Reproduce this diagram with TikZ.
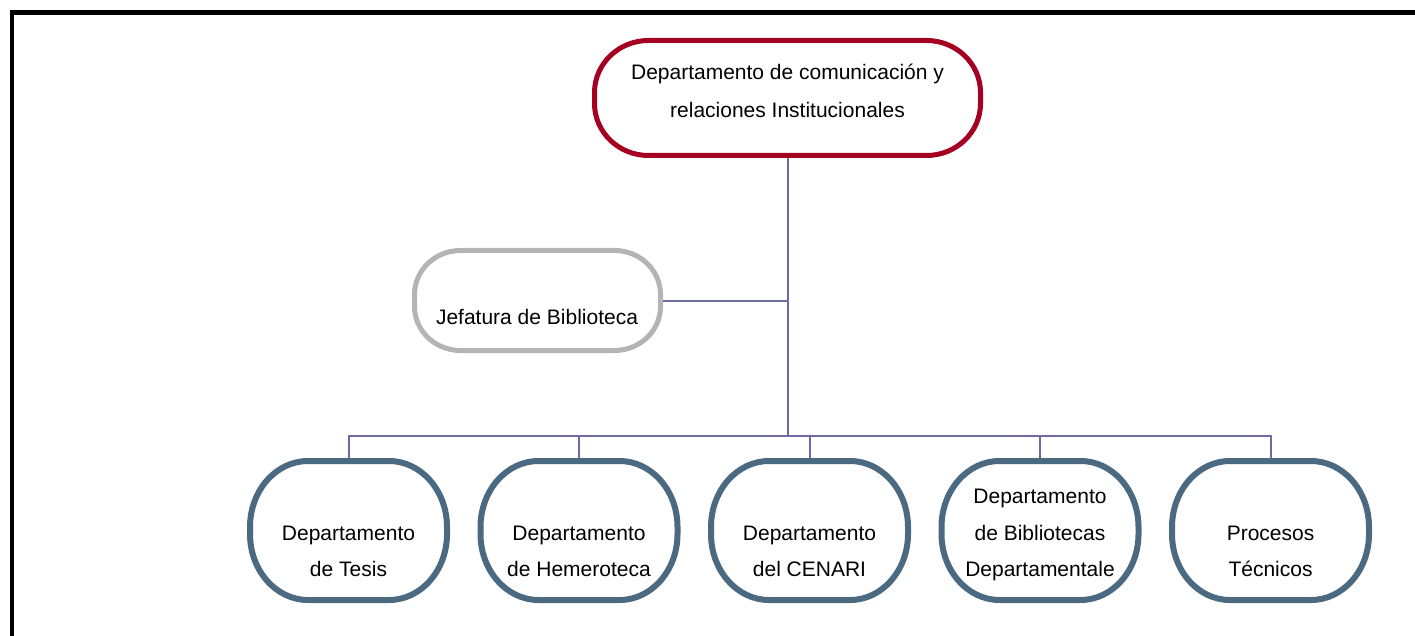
\documentclass[tikz,border=0pt]{standalone}
\usepackage{fontspec}
\setmainfont{Liberation Sans}
\definecolor{topred}{RGB}{165,0,33}
\definecolor{jefgray}{RGB}{180,180,180}
\definecolor{slate}{RGB}{75,105,128}
\definecolor{linkc}{RGB}{110,106,163}
\tikzset{
  holder/.style={rectangle, draw=none, inner sep=0pt, outer sep=0pt},
  topbox/.style={holder, minimum width=386pt, minimum height=115pt},
  jefbox/.style={holder, minimum width=246pt, minimum height=100pt},
  depbox/.style={holder, minimum width=197pt, minimum height=139pt},
  topline/.style={draw=topred, fill=white, line width=5pt},
  jefline/.style={draw=jefgray, fill=white, line width=5pt},
  depline/.style={draw=slate, fill=white, line width=6pt},
  txt/.style={align=center, inner sep=0pt, anchor=base, font=\fontsize{21pt}{36pt}\selectfont},
  link/.style={draw=linkc, line width=2pt},
  frame/.style={line width=4.6pt, black}
}
\newcommand\ovalshape[4]{%
  \path[#4] ([xshift=#2]#1.north west) -- ([xshift=-#2]#1.north east)
    arc[start angle=90,end angle=0,x radius=#2,y radius=#3]
    -- ([yshift=#3]#1.south east)
    arc[start angle=0,end angle=-90,x radius=#2,y radius=#3]
    -- ([xshift=#2]#1.south west)
    arc[start angle=-90,end angle=-180,x radius=#2,y radius=#3]
    -- ([yshift=-#3]#1.north west)
    arc[start angle=180,end angle=90,x radius=#2,y radius=#3] -- cycle;}
\begin{document}
\begin{tikzpicture}[x=1pt,y=-1pt]
\useasboundingbox (0,0) rectangle (1415,636);
% frame
\coordinate (fa) at (12,636);
\coordinate (fb) at (12,12.5);
\coordinate (fc) at (1415,12.5);
\draw[frame] (fa) -- ([yshift=-2.3pt]fb) ;
\draw[frame] ([xshift=-2.3pt]fb) -- (fc);
% nodes
\node[topbox] (top) at (787.5,98) {};
\node[jefbox] (jef) at (537.5,300.5) {};
\node[depbox] (d1) at (348.5,530.5) {};
\node[depbox] (d2) at (579,530.5) {};
\node[depbox] (d3) at (809.5,530.5) {};
\node[depbox] (d4) at (1040,530.5) {};
\node[depbox] (d5) at (1270.5,530.5) {};
\ovalshape{top}{54pt}{52pt}{topline}
\ovalshape{jef}{46pt}{44pt}{jefline}
\foreach \n in {d1,d2,d3,d4,d5} {\ovalshape{\n}{58pt}{66pt}{depline}}
% texts
\node[txt] (ttop) at (787.5,80) {Departamento de comunicación y};
\node[txt] (ttop2) at (787.5,118) {relaciones Institucionales};
\node[txt] (tjef) at (537,324) {Jefatura de Biblioteca};
\node[txt] (t1a) at (348.5,540) {Departamento};
\node[txt] (t1b) at (348.5,576) {de Tesis};
\node[txt] (t2a) at (579,540) {Departamento};
\node[txt] (t2b) at (579,576) {de Hemeroteca};
\node[txt] (t3a) at (809.5,540) {Departamento};
\node[txt] (t3b) at (809.5,576) {del CENARI};
\node[txt] (t4a) at (1040,503) {Departamento};
\node[txt] (t4b) at (1040,540) {de Bibliotecas};
\node[txt] (t4c) at (1040,576) {Departamentale};
\node[txt] (t5a) at (1270.5,540) {Procesos};
\node[txt] (t5b) at (1270.5,576) {Técnicos};
% connectors
\coordinate (bus) at (787.5,436);
\draw[link] ([yshift=-2.5pt]top.south) -- (bus);
\draw[link] ([xshift=2.5pt]jef.east) -- (jef.east -| top.south);
\foreach \n in {d1,d2,d3,d4,d5} \draw[link] (bus) -| ([yshift=3pt]\n.north);
\end{tikzpicture}
\end{document}
